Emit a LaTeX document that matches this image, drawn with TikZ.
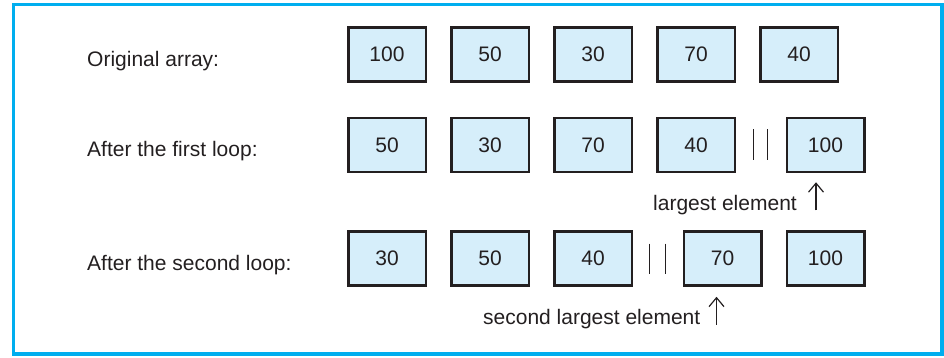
\documentclass[tikz,border=0pt]{standalone}
\usepackage{fontspec}
\setmainfont{Liberation Sans}
\usetikzlibrary{arrows.meta, positioning, calc}
\definecolor{framecyan}{RGB}{0,174,239}
\definecolor{cellfill}{RGB}{214,238,250}
\definecolor{inkgray}{RGB}{35,31,32}

\begin{document}
\begin{tikzpicture}[
  x=1pt, y=-1pt,
  node distance=23pt,
  font=\fontsize{21}{25}\selectfont,
  cell/.style={rectangle, draw=inkgray, fill=cellfill, line width=2.5pt,
    minimum width=77.5pt, minimum height=54pt, text=inkgray},
  rowlabel/.style={anchor=base west, inner sep=0pt, text=inkgray},
  note/.style={anchor=base east, inner sep=0pt, text=inkgray},
  ptr/.style={-{Straight Barb[length=9pt, width=15pt]}, line width=1.2pt, draw=inkgray},
  bar/.style={line width=1.3pt, draw=inkgray},
]
\useasboundingbox (0,0) rectangle (944,358);
\draw[framecyan, line width=3.5pt] (13.5,4.5) rectangle (942,354);

% original array
\node[rowlabel] (lab1) at (87,67) {Original array:};
\node[cell] (a1) at (387,54.5) {100};
\node[cell, right=of a1] (a2) {50};
\node[cell, right=of a2] (a3) {30};
\node[cell, right=of a3] (a4) {70};
\node[cell, right=of a4] (a5) {40};

% after the first loop
\node[rowlabel] (lab2) at (87,157) {After the first loop:};
\node[cell] (b1) at (387,145) {50};
\node[cell, right=of b1] (b2) {30};
\node[cell, right=of b2] (b3) {70};
\node[cell, right=of b3] (b4) {40};
\node[cell, right=49.5pt of b4] (b5) {100};
\coordinate (g1) at ($(b4.east)!0.5!(b5.west)$);
\draw[bar] ([xshift=-7pt,yshift=15.5pt]g1) -- ([xshift=-7pt,yshift=-15.5pt]g1);
\draw[bar] ([xshift=7pt,yshift=15.5pt]g1) -- ([xshift=7pt,yshift=-15.5pt]g1);
\coordinate (tip1) at ([xshift=-9.5pt,yshift=-9pt]b5.south);
\coordinate (tail1) at ([yshift=-28pt]tip1);
\draw[ptr] (tail1) -- (tip1);
\node[note] (big1) at ([xshift=-19pt]tail1) {largest element};

% after the second loop
\node[rowlabel] (lab3) at (87,270) {After the second loop:};
\node[cell] (c1) at (387,258.5) {30};
\node[cell, right=of c1] (c2) {50};
\node[cell, right=of c2] (c3) {40};
\node[cell, right=49.5pt of c3] (c4) {70};
\node[cell, right=of c4] (c5) {100};
\coordinate (g2) at ($(c3.east)!0.5!(c4.west)$);
\draw[bar] ([xshift=-8pt,yshift=15pt]g2) -- ([xshift=-8pt,yshift=-15pt]g2);
\draw[bar] ([xshift=8pt,yshift=15pt]g2) -- ([xshift=8pt,yshift=-15pt]g2);
\coordinate (tip2) at ([xshift=-6pt,yshift=-10pt]c4.south);
\coordinate (tail2) at ([yshift=-28pt]tip2);
\draw[ptr] (tail2) -- (tip2);
\node[note] (big2) at ([xshift=-16pt]tail2) {second largest element};
\end{tikzpicture}
\end{document}
